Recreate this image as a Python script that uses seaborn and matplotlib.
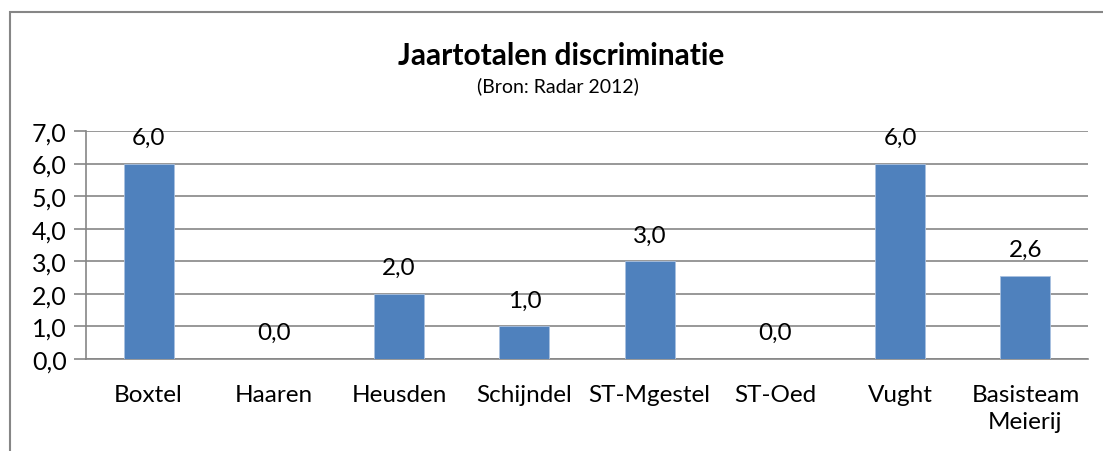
import pandas as pd
import seaborn as sns
import matplotlib.pyplot as plt
from matplotlib.patches import Rectangle
from matplotlib.ticker import FuncFormatter

sns.set_theme(style="white")
plt.rcParams['font.family'] = ['Lato', 'DejaVu Sans']
plt.rcParams['text.color'] = 'black'
plt.rcParams['xtick.color'] = 'black'
plt.rcParams['ytick.color'] = 'black'

# Data
gemeenten = ['Boxtel', 'Haaren', 'Heusden', 'Schijndel', 'ST-Mgestel',
             'ST-Oed', 'Vught', 'Basisteam\nMeierij']
waarden = [6.0, 0.0, 2.0, 1.0, 3.0, 0.0, 6.0, 2.56]
yticks = [0, 1, 2, 3, 4, 5, 6, 7]

df = pd.DataFrame({'gemeente': gemeenten, 'waarde': waarden})

fig = plt.figure(figsize=(11.03, 4.52), dpi=100)
ax = fig.add_axes([86 / 1103, 1 - 360 / 452, 1002 / 1103, 228 / 452])

sns.barplot(data=df, x='gemeente', y='waarde', color='#4F81BD',
            saturation=1, width=0.4, edgecolor='#a9c1e0', linewidth=0.6,
            ax=ax, zorder=3)

grid_col = '#868686'
fs = 17.5
ax.set_ylim(0, 7)
ax.set_xlim(-0.5, len(gemeenten) - 0.5)
ax.set_yticks(yticks)
ax.yaxis.set_major_formatter(FuncFormatter(lambda v, p: f'{v:.1f}'.replace('.', ',')))
ax.yaxis.grid(True, color=grid_col, linewidth=1.2, zorder=0)
ax.set_axisbelow(True)
for side in ['top', 'right']:
    ax.spines[side].set_visible(False)
for side in ['left', 'bottom']:
    ax.spines[side].set_color(grid_col)
    ax.spines[side].set_linewidth(1.2)
ax.tick_params(axis='y', which='major', left=True, length=9, width=1.2,
               color=grid_col, labelcolor='black', labelsize=18, pad=5)
ax.tick_params(axis='x', bottom=False, labelcolor='black', labelsize=fs, pad=12)
for lab in ax.get_xticklabels():
    lab.set_linespacing(1.35)
ax.set_xlabel('')
ax.set_ylabel('')

# Value labels
for i, v in enumerate(waarden):
    ax.annotate(f'{v:.1f}'.replace('.', ','), (i, v), xytext=(0, 19),
                textcoords='offset points', ha='center', va='center',
                fontsize=fs, color='black', zorder=5)

# Title and subtitle
fig.text(561 / 1103, 1 - 65 / 452, 'Jaartotalen discriminatie',
         ha='center', va='baseline', fontsize=21.5, fontweight='bold')
fig.text(558 / 1103, 1 - 92 / 452, '(Bron: Radar 2012)',
         ha='center', va='baseline', fontsize=14)

# Chart border
fig.patches.append(Rectangle((10 / 1103, -0.1), 1.2, 1.1 - 13 / 452,
                             transform=fig.transFigure, fill=False,
                             edgecolor=grid_col, linewidth=1.5))

fig.savefig('out.png', dpi=100)
